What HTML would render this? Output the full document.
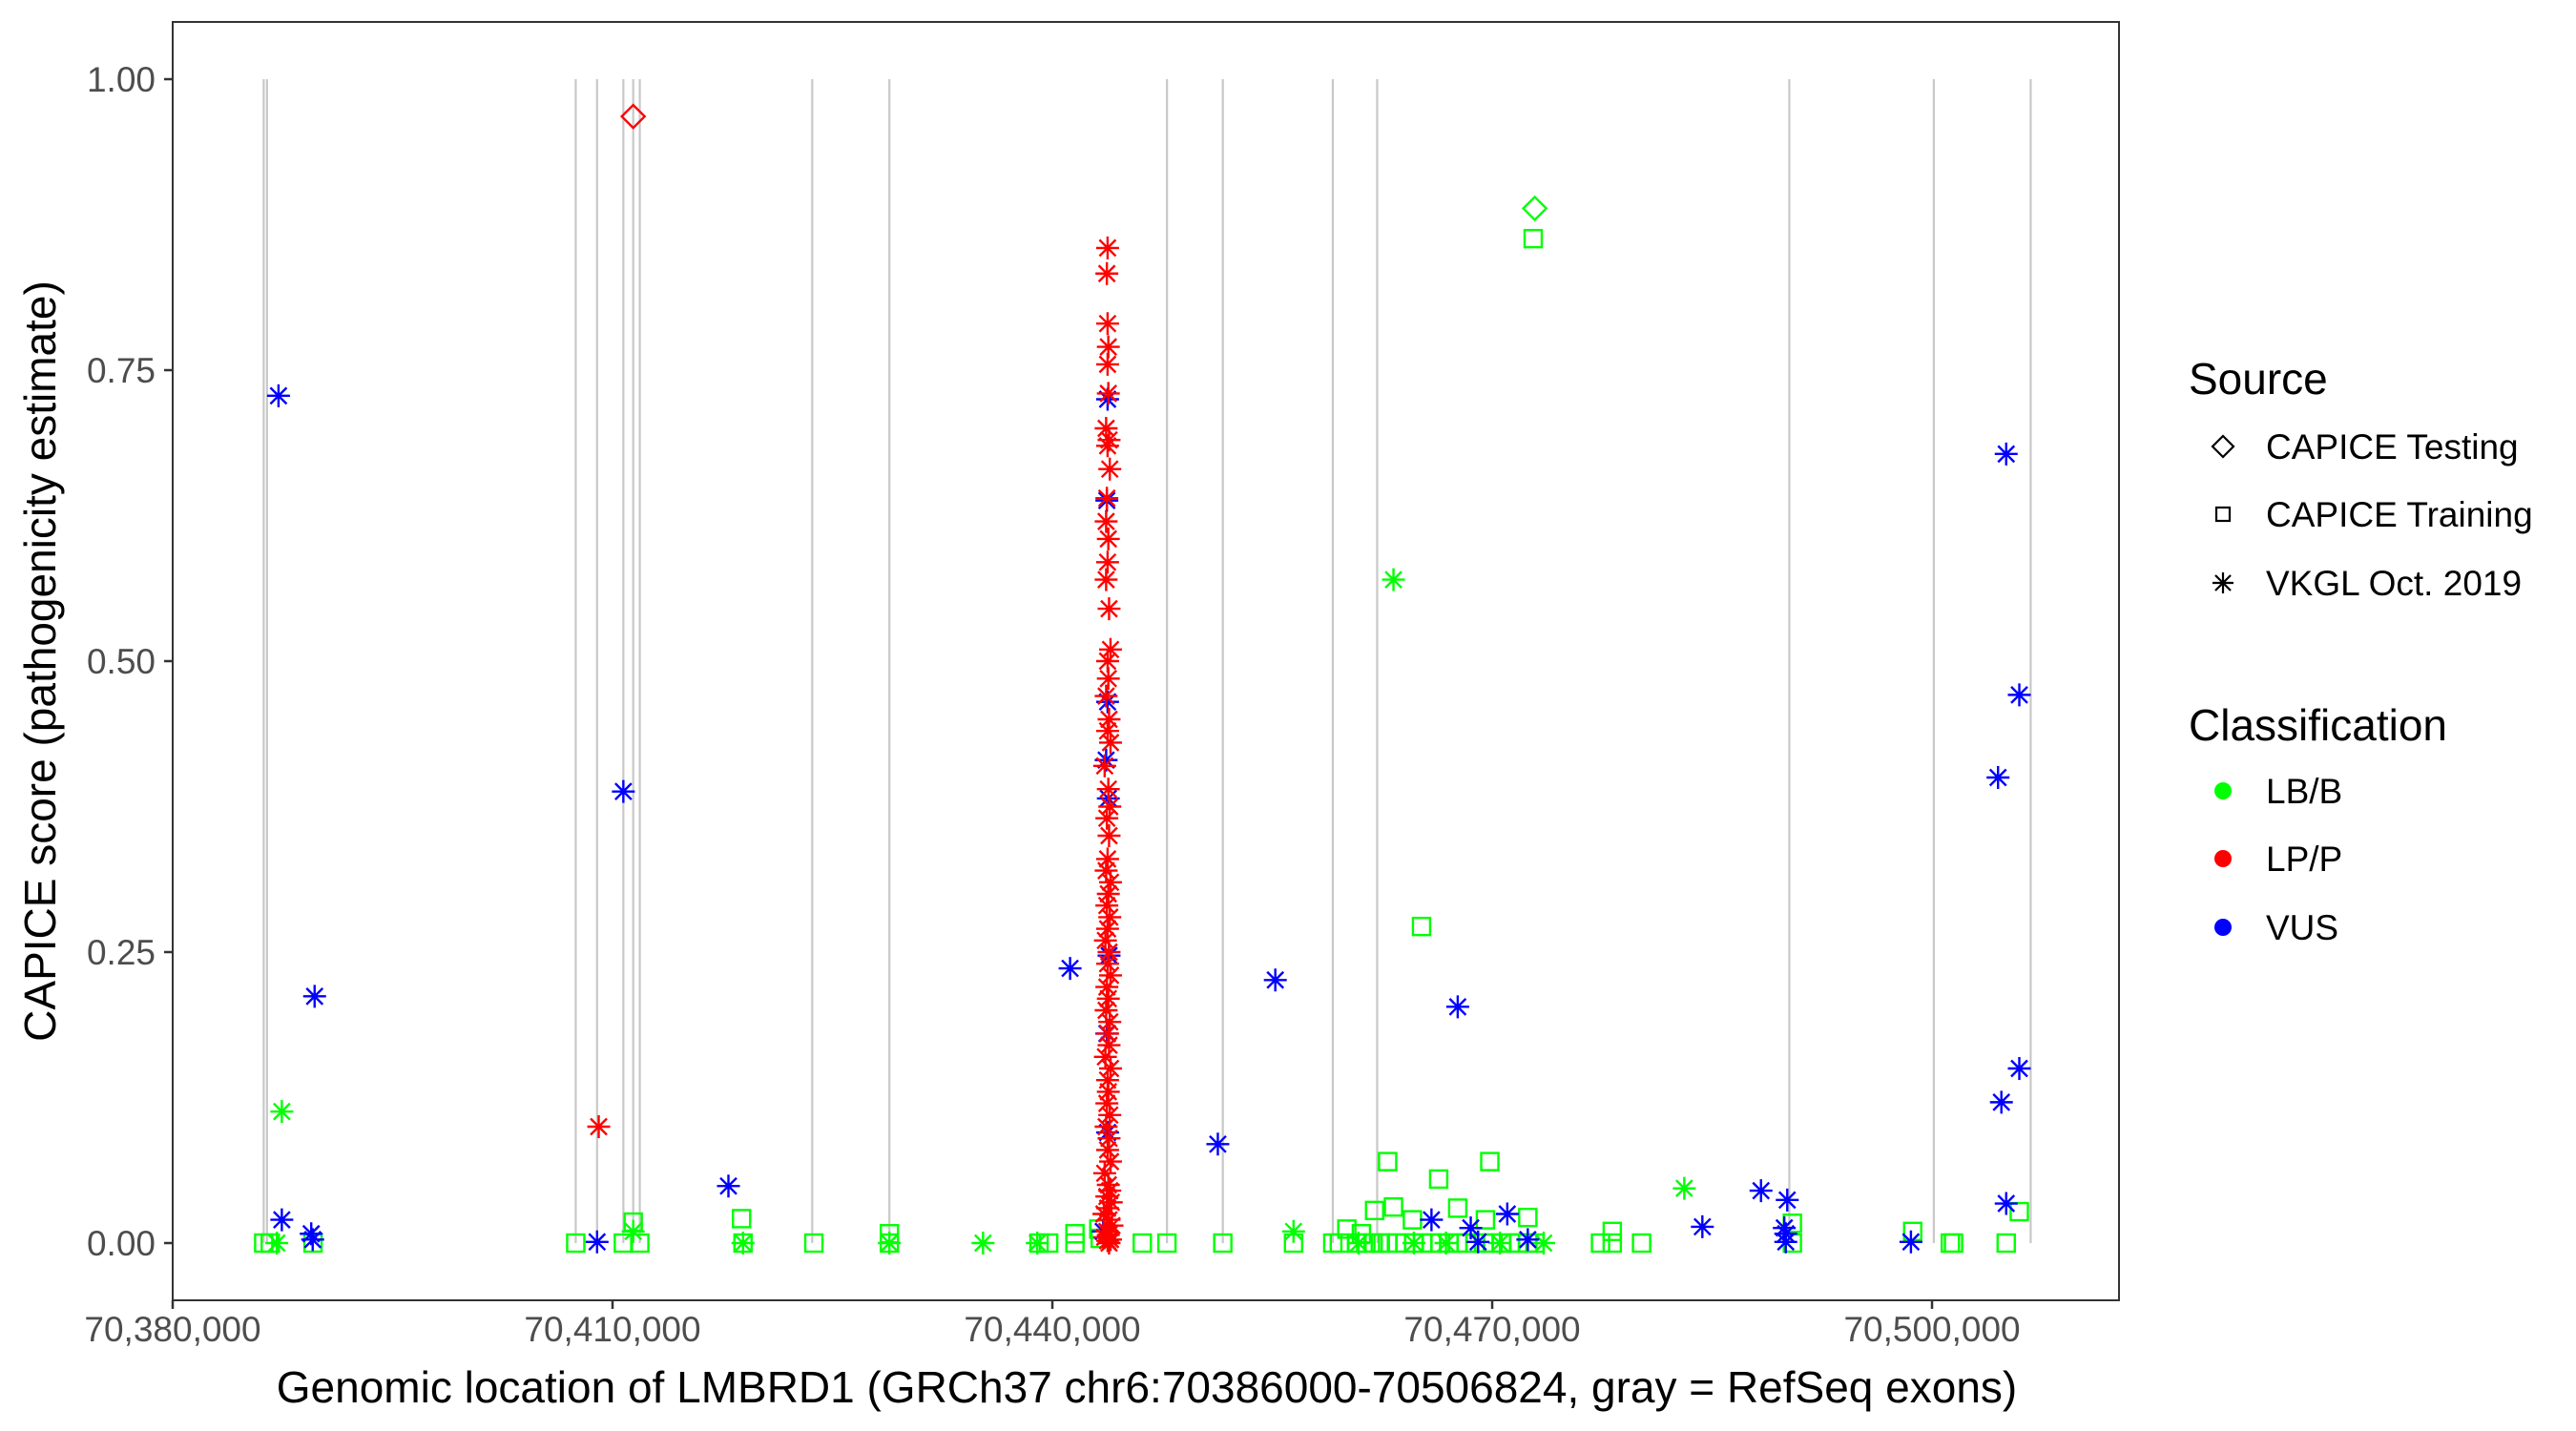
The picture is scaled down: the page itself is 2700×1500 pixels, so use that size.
<!DOCTYPE html>
<html><head><meta charset="utf-8"><style>
html,body{margin:0;padding:0;background:#fff;}
svg{display:block;font-family:"Liberation Sans",Arial,sans-serif;}
</style></head><body>
<svg id="chart" width="2700" height="1500" viewBox="0 0 2700 1500" xmlns="http://www.w3.org/2000/svg">
<rect x="0" y="0" width="2700" height="1500" fill="#fff"/>
<g id="exons"></g>
<g id="points"></g>
<rect x="181" y="23" width="2040" height="1340" fill="none" stroke="#333" stroke-width="2"/>
<g id="yaxis"></g>
<g id="xaxis"></g>
<text transform="translate(58,693) rotate(-90)" text-anchor="middle" font-size="46" fill="#000">CAPICE score (pathogenicity estimate)</text>
<text x="1202" y="1470" text-anchor="middle" font-size="46" fill="#000">Genomic location of LMBRD1 (GRCh37 chr6:70386000-70506824, gray = RefSeq exons)</text>
<g>
<text x="2294" y="413" font-size="46" fill="#000">Source</text>
<polygon points="2330,457 2341,468 2330,479 2319,468" fill="none" stroke="#000" stroke-width="2.2"/>
<text x="2375" y="481" font-size="37" fill="#000">CAPICE Testing</text>
<rect x="2323" y="532" width="14" height="14" fill="none" stroke="#000" stroke-width="2.2"/>
<text x="2375" y="552" font-size="37" fill="#000">CAPICE Training</text>
<g stroke="#000" stroke-width="2.2"><line x1="2319" y1="611" x2="2341" y2="611"/><line x1="2330" y1="600" x2="2330" y2="622"/><line x1="2322" y1="603" x2="2338" y2="619"/><line x1="2322" y1="619" x2="2338" y2="603"/></g>
<text x="2375" y="624" font-size="37" fill="#000">VKGL Oct. 2019</text>
</g>
<g>
<text x="2294" y="776" font-size="46" fill="#000">Classification</text>
<circle cx="2330" cy="829" r="9" fill="#00ff00"/>
<text x="2375" y="842" font-size="37" fill="#000">LB/B</text>
<circle cx="2330" cy="900" r="9" fill="#ff0000"/>
<text x="2375" y="913" font-size="37" fill="#000">LP/P</text>
<circle cx="2330" cy="972" r="9" fill="#0000ff"/>
<text x="2375" y="985" font-size="37" fill="#000">VUS</text>
</g>
</svg>
<script>
const exonPositions=[70386208,70386431,70407490,70408947,70410739,70411411,70411860,70423622,70428884,70447816,70451626,70459129,70462154,70490264,70500122,70506728];
const yTickValues=[0,0.25,0.5,0.75,1];
const yTickLabels=["0.00","0.25","0.50","0.75","1.00"];
const xTickValues=[70380000,70410000,70440000,70470000,70500000];
const xTickLabels=["70,380,000","70,410,000","70,440,000","70,470,000","70,500,000"];

// Green (LB/B) CAPICE Training squares
const lbTrainPos=[70386208,70386655,70389570,70407490,70410739,70411860,70411411,70418800,70418900,70423732,70428884,70428884,70439092,70439748,70441540,70441540,70443167,70443267,70446134,70447816,70451626,70456450,70459125,70459575,70460085,70460778,70461078,70461378,70461878,70461978,70462367,70462867,70462867,70463267,70463467,70464067,70464558,70464658,70465178,70465258,70465858,70466348,70466448,70467048,70467648,70467648,70468237,70468837,70469437,70469537,70469837,70470037,70470628,70471228,70471828,70472428,70472428,70472795,70472915,70477388,70478188,70478188,70480188,70490474,70490474,70498680,70501246,70501466,70505058,70505952];
const lbTrainScore=[0,0,0,0,0,0,0.018,0.021,0,0,0,0.008,0,0,0,0.008,0.012,0.004,0,0,0,0,0,0,0.012,0,0.008,0,0,0.028,0,0,0.07,0.031,0,0,0.02,0,0.272,0,0,0.055,0,0,0,0.03,0,0,0,0.02,0.07,0,0,0,0,0,0.022,0.863,0,0,0,0.01,0,0,0.017,0.01,0,0,0,0.027];
// Green VKGL asterisks
const lbVkglPos=[70387444,70387104,70411411,70418900,70428884,70435271,70438972,70456450,70463267,70483101,70460878,70464658,70466848,70470528,70473515];
const lbVkglScore=[0.113,0,0.01,0,0,0,0,0.01,0.57,0.047,0,0,0,0,0];
// Green testing diamonds
const lbTestPos=[70472905];
const lbTestScore=[0.889];
// Red testing diamonds
const lpTestPos=[70411411];
const lpTestScore=[0.968];
// Red VKGL asterisks
const lpVkglPos=[70409058,70443767,70443717,70443767,70443817,70443767,70443817,70443667,70443867,70443767,70443917,70443717,70443667,70443817,70443767,70443667,70443867,70443967,70443767,70443817,70443667,70443867,70443767,70443967,70443567,70443817,70443917,70443717,70443867,70443767,70443667,70443967,70443817,70443717,70443917,70443767,70443617,70443867,70443767,70443967,70443717,70443817,70443667,70443917,70443767,70443867,70443617,70443967,70443767,70443817,70443717,70443917,70443667,70443867,70443767,70443967,70443567,70443817,70443917,70443717,70444017,70443767,70443517,70443867,70444067,70443717,70443817,70443567,70443967,70443767,70443867];
const lpVkglScore=[0.100,0.855,0.833,0.79,0.77,0.755,0.73,0.70,0.69,0.685,0.665,0.64,0.62,0.605,0.585,0.57,0.545,0.51,0.50,0.485,0.47,0.45,0.44,0.43,0.41,0.39,0.375,0.365,0.35,0.33,0.32,0.31,0.30,0.29,0.28,0.27,0.26,0.25,0.24,0.23,0.22,0.21,0.20,0.19,0.18,0.17,0.16,0.15,0.14,0.13,0.12,0.11,0.10,0.09,0.08,0.07,0.06,0.05,0.045,0.04,0.035,0.03,0.025,0.02,0.015,0.01,0.007,0.005,0.003,0.002,0];
// Blue (VUS) VKGL asterisks
const vusVkglPos=[70387218,70389680,70387444,70389450,70389550,70408947,70410739,70417906,70441208,70443767,70443717,70443767,70443667,70443817,70443867,70443717,70443767,70443467,70451287,70455207,70467648,70465858,70468537,70471028,70469037,70472428,70484335,70488334,70490124,70489924,70490024,70490024,70498560,70505058,70505952,70504502,70505952,70504730,70505058];
const vusVkglScore=[0.728,0.212,0.020,0.008,0.003,0.001,0.388,0.049,0.236,0.725,0.638,0.465,0.415,0.382,0.247,0.18,0.095,0.01,0.085,0.226,0.203,0.020,0.013,0.025,0.001,0.003,0.014,0.045,0.037,0.013,0.008,0.001,0.001,0.678,0.471,0.400,0.150,0.121,0.034];

const NS="http://www.w3.org/2000/svg";
const X0=181,Y0=1303,PXBP=0.015367,PXS=1220;
function xScale(bp){return X0+(bp-70380000)*PXBP;}
function yScale(s){return Y0-s*PXS;}
function mk(tag,attrs,parent){const e=document.createElementNS(NS,tag);for(const k in attrs)e.setAttribute(k,attrs[k]);parent.appendChild(e);return e;}

const exG=document.getElementById('exons');
exonPositions.forEach(p=>{
  const l=mk('line',{x1:xScale(p),x2:xScale(p),y1:yScale(1),y2:yScale(0),stroke:'#c8c8c8','stroke-width':2.2},exG);
  
  
});

const yG=document.getElementById('yaxis');
yTickValues.forEach((v,i)=>{
  const y=yScale(v);
  const t=mk('line',{x1:172,x2:181,y1:y,y2:y,stroke:'#333','stroke-width':2.5},yG);
  
  
  const tx=mk('text',{x:163,y:y+13,'text-anchor':'end','font-size':37,fill:'#4d4d4d'},yG);
  tx.textContent=yTickLabels[i];
  
  
});
const xG=document.getElementById('xaxis');
xTickValues.forEach((v,i)=>{
  const x=xScale(v);
  const t=mk('line',{x1:x,x2:x,y1:1363,y2:1372,stroke:'#333','stroke-width':2.5},xG);
  
  
  const tx=mk('text',{x:x,y:1406,'text-anchor':'middle','font-size':37,fill:'#4d4d4d'},xG);
  tx.textContent=xTickLabels[i];
  
  
});

const pG=document.getElementById('points');
function square(bp,s,col){
  const x=xScale(bp),y=yScale(s);
  const r=mk('rect',{x:x-9,y:y-9,width:18,height:18,fill:'none',stroke:col,'stroke-width':2.4},pG);
  
  
}
function diamond(bp,s,col){
  const x=xScale(bp),y=yScale(s);
  const d=mk('polygon',{points:`${x},${y-12} ${x+12},${y} ${x},${y+12} ${x-12},${y}`,fill:'none',stroke:col,'stroke-width':2.4},pG);
  
  
}
function star(bp,s,col){
  const x=xScale(bp),y=yScale(s),r=12,q=8.5;
  const g=mk('path',{d:`M${x-r},${y}H${x+r}M${x},${y-r}V${y+r}M${x-q},${y-q}L${x+q},${y+q}M${x-q},${y+q}L${x+q},${y-q}`,stroke:col,'stroke-width':2.4,fill:'none'},pG);
  
  
}
lbTrainPos.forEach((p,i)=>square(p,lbTrainScore[i],'#00ff00'));
lbVkglPos.forEach((p,i)=>star(p,lbVkglScore[i],'#00ff00'));
lbTestPos.forEach((p,i)=>diamond(p,lbTestScore[i],'#00ff00'));
vusVkglPos.forEach((p,i)=>star(p,vusVkglScore[i],'#0000ff'));
lpTestPos.forEach((p,i)=>diamond(p,lpTestScore[i],'#ff0000'));
lpVkglPos.forEach((p,i)=>star(p,lpVkglScore[i],'#ff0000'));
</script>
</body></html>
